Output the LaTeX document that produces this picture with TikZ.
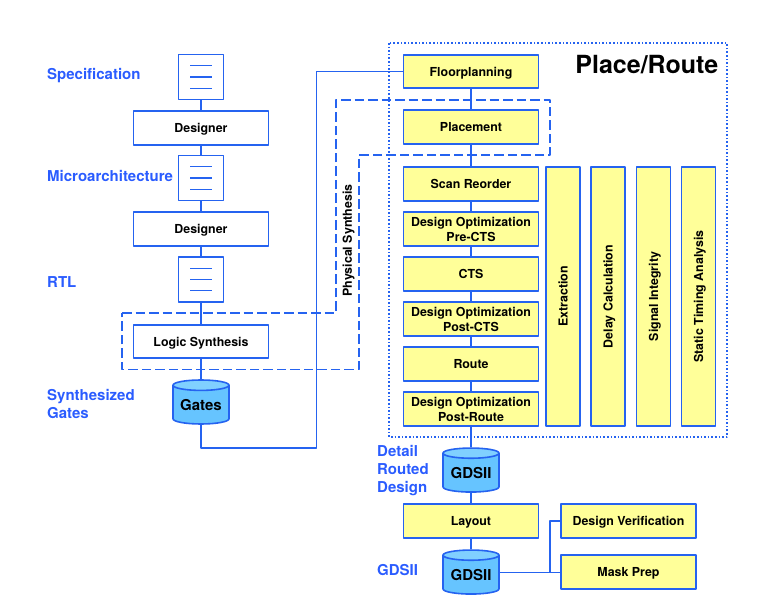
\documentclass[tikz,border=0pt]{standalone}
\usepackage{fontspec}
\setmainfont{TeX Gyre Heros}
\usetikzlibrary{shapes.geometric}
\definecolor{flowblue}{HTML}{2563F0}
\definecolor{labelblue}{HTML}{2A5CFF}
\definecolor{boxyellow}{HTML}{FFFF99}
\definecolor{dbbody}{HTML}{66C4FF}
\definecolor{dbtop}{HTML}{80D0FF}
\tikzset{
	line/.style={draw=flowblue,line width=1.6pt},
	stagebox/.style={line,fill=white,minimum width=135pt,minimum height=33.5pt,inner sep=0pt,align=center,font=\bfseries\fontsize{12.4}{15}\selectfont},
	prbox/.style={stagebox,fill=boxyellow},
	lowtext/.style={execute at begin node={\rule[-3pt]{0pt}{15.2pt}}},
	sidebox/.style={prbox,minimum width=259pt,minimum height=34pt,rotate=90},
	docbox/.style={line,fill=white,minimum width=45pt,minimum height=45pt,inner sep=0pt},
	dbstore/.style={cylinder,shape border rotate=90,line,cylinder uses custom fill,cylinder body fill=dbbody,cylinder end fill=dbtop,aspect=.25,minimum width=56pt,minimum height=44pt,inner sep=0pt,font=\bfseries\fontsize{15}{16}\selectfont},
	tag/.style={text=labelblue,anchor=west,align=left,inner sep=0pt,font=\bfseries\fontsize{15}{18}\selectfont},
}
\begin{document}
\begin{tikzpicture}[x=1pt,y=-1pt,line join=round]
	\useasboundingbox (0,0) rectangle (761,612);
	% frames
	\draw[flowblue,line width=1.6pt,dotted] (389,43) rectangle (727,437);
	\draw[line,dash pattern=on 9.5pt off 4pt] (122,313)--(336,313)--(336,100)--(550,100)--(550,155)--(359,155)--(359,369.5)--(122,369.5)--cycle;
	% left column
	\node[docbox] (specdoc) at (201,77) {};
	\node[stagebox,lowtext] (designerA) at (201,128) {Designer};
	\node[docbox] (archdoc) at (201,178) {};
	\node[stagebox,lowtext] (designerB) at (201,229) {Designer};
	\node[docbox] (rtldoc) at (201,279.5) {};
	\node[stagebox,lowtext] (logic) at (201,341.5) {Logic Synthesis};
	\node[dbstore] (gates) at (201,405) {Gates};
	\foreach \n in {specdoc,archdoc,rtldoc}{
		\foreach \k in {-11.3,0,11.3}{
			\draw[flowblue,line width=1.1pt] ([xshift=-11pt,yshift=\k pt]\n.center)--++(22,0);}}
	% place and route column
	\node[prbox,lowtext] (floor) at (471,71.5) {Floorplanning};
	\node[prbox,lowtext] (place) at (471,127) {Placement};
	\node[prbox,lowtext] (scan) at (471,184) {Scan Reorder};
	\node[prbox] (optpre) at (471,229) {Design Optimization\\Pre-CTS};
	\node[prbox,lowtext] (cts) at (471,274) {CTS};
	\node[prbox] (optpost) at (471,319) {Design Optimization\\Post-CTS};
	\node[prbox,lowtext] (route) at (471,364) {Route};
	\node[prbox] (optroute) at (471,409) {Design Optimization\\Post-Route};
	\node[sidebox,lowtext] (extract) at (563,296.5) {Extraction};
	\node[sidebox,lowtext] (delay) at (608,296.5) {Delay Calculation};
	\node[sidebox,lowtext] (signal) at (653.5,296.5) {Signal Integrity};
	\node[sidebox,lowtext] (timing) at (698.5,296.5) {Static Timing Analysis};
	% bottom
	\node[dbstore] (gdsA) at (471,473) {GDSII};
	\node[prbox,lowtext] (layout) at (471,521) {Layout};
	\node[dbstore] (gdsB) at (471,575) {GDSII};
	\node[prbox,lowtext] (verify) at (628.5,521) {Design Verification};
	\node[prbox,lowtext] (mask) at (628.5,572) {Mask Prep};
	\coordinate (branch) at (550,572.5);
	\coordinate (gatesdown) at (201,448);
	\coordinate (riser) at (316.5,448);
	% connectors
	\foreach \a/\b in {specdoc/designerA,designerA/archdoc,archdoc/designerB,designerB/rtldoc,rtldoc/logic}{
		\draw[line] (\a.south)--(\b.north);}
	\draw[line] (logic.south)--(gates.north);
	\foreach \a/\b in {floor/place,place/scan,scan/optpre,optpre/cts,cts/optpost,optpost/route,route/optroute}{
		\draw[line] (\a.south)--(\b.north);}
	\draw[line] (optroute.south)--(gdsA.north);
	\draw[line] (gdsA.south)--(layout.north);
	\draw[line] (layout.south)--(gdsB.north);
	\draw[line] (gates.south)--(gatesdown)--(riser)--(riser|-floor.west)--(floor.west);
	\draw[line] (gdsB.east|-branch)--(branch)--(mask.west|-branch);
	\draw[line] (branch)--(branch|-verify.west)--(verify.west);
	% labels
	\node[tag] (specl) at (47,76) {Specification};
	\node[tag] (archl) at (47,176) {Microarchitecture};
	\node[tag] (rtll) at (47,282) {RTL};
	\node[tag] (gatesl) at (47,404) {Synthesized\\Gates};
	\node[tag] (detaill) at (377,471) {Detail\\Routed\\Design};
	\node[tag] (gdsl) at (377,570) {GDSII};
	\node[rotate=90,font=\bfseries\fontsize{12.4}{15}\selectfont] (physl) at (348.5,240.5) {Physical Synthesis};
	\node[anchor=east,inner sep=0pt,font=\bfseries\fontsize{25}{28}\selectfont] (prl) at (718.5,64.5) {Place/Route};
\end{tikzpicture}
\end{document}
